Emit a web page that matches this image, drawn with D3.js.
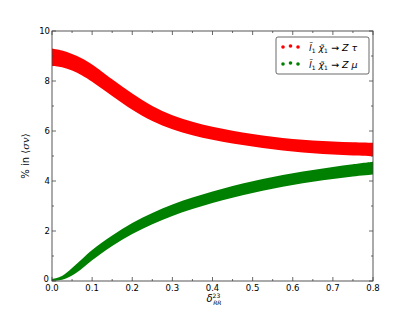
<!DOCTYPE html>
<html>
<head>
<meta charset="utf-8">
<script src="https://cdn.jsdelivr.net/npm/d3@7"></script>
<style>
  body { margin: 0; background: #fff; }
  text { font-family: "DejaVu Sans", sans-serif; }
</style>
</head>
<body>
<div id="chart"></div>
<script>
const delta = [0, 0.025, 0.05, 0.075, 0.1, 0.15, 0.2, 0.25, 0.3, 0.35, 0.4, 0.45, 0.5, 0.55, 0.6, 0.65, 0.7, 0.75, 0.8];
const tauLow  = [8.6, 8.55, 8.42, 8.22, 7.97, 7.4, 6.85, 6.4, 6.07, 5.83, 5.65, 5.5, 5.38, 5.27, 5.18, 5.11, 5.06, 5.02, 4.99];
const tauHigh = [9.3, 9.22, 9.08, 8.9, 8.66, 8.07, 7.5, 7.0, 6.63, 6.37, 6.17, 6.01, 5.88, 5.77, 5.68, 5.62, 5.58, 5.55, 5.53];
const muLow   = [0, 0.05, 0.22, 0.5, 0.83, 1.4, 1.88, 2.27, 2.6, 2.88, 3.12, 3.33, 3.52, 3.69, 3.84, 3.97, 4.08, 4.18, 4.26];
const muHigh  = [0.08, 0.2, 0.52, 0.88, 1.24, 1.82, 2.32, 2.72, 3.06, 3.34, 3.58, 3.8, 3.99, 4.16, 4.31, 4.44, 4.56, 4.67, 4.77];
const xTicks = [0, 0.1, 0.2, 0.3, 0.4, 0.5, 0.6, 0.7, 0.8];
const yTicks = [0, 2, 4, 6, 8, 10];

const width = 415, height = 312;
const pl = 52, pr = 373, pt = 31, pb = 281;

const svg = d3.select("#chart").append("svg")
  .attr("width", width)
  .attr("height", height);

const x = d3.scaleLinear().domain([0, 0.8]).range([pl, pr]);
const y = d3.scaleLinear().domain([0, 10]).range([pb, pt]);

const series = [
  {low: tauLow, high: tauHigh, color: "#ff0000"},
  {low: muLow, high: muHigh, color: "#008000"}
];

const area = d3.area()
  .x(d => x(d.x))
  .y0(d => y(d.lo))
  .y1(d => y(d.hi))
  .curve(d3.curveCatmullRom);

series.forEach(s => {
  const pts = delta.map((d, i) => ({x: d, lo: s.low[i], hi: s.high[i]}));
  svg.append("path")
    .datum(pts)
    .attr("d", area)
    .attr("fill", s.color);
});

// frame
svg.append("rect")
  .attr("x", pl).attr("y", pt)
  .attr("width", pr - pl).attr("height", pb - pt)
  .attr("fill", "none").attr("stroke", "#444").attr("stroke-width", 0.9);

// ticks, inward on all four sides
const xMinor = d3.range(0.05, 0.8, 0.1);
const yMinor = [1, 3, 5, 7, 9];
const tk = svg.append("g").attr("stroke", "#444").attr("stroke-width", 0.8);
xTicks.forEach(t => {
  tk.append("line").attr("x1", x(t)).attr("x2", x(t)).attr("y1", pb).attr("y2", pb - 4);
  tk.append("line").attr("x1", x(t)).attr("x2", x(t)).attr("y1", pt).attr("y2", pt + 4);
});
xMinor.forEach(t => {
  tk.append("line").attr("x1", x(t)).attr("x2", x(t)).attr("y1", pb).attr("y2", pb - 2);
  tk.append("line").attr("x1", x(t)).attr("x2", x(t)).attr("y1", pt).attr("y2", pt + 2);
});
yTicks.forEach(t => {
  tk.append("line").attr("y1", y(t)).attr("y2", y(t)).attr("x1", pl).attr("x2", pl + 4);
  tk.append("line").attr("y1", y(t)).attr("y2", y(t)).attr("x1", pr).attr("x2", pr - 4);
});
yMinor.forEach(t => {
  tk.append("line").attr("y1", y(t)).attr("y2", y(t)).attr("x1", pl).attr("x2", pl + 2);
  tk.append("line").attr("y1", y(t)).attr("y2", y(t)).attr("x1", pr).attr("x2", pr - 2);
});

svg.selectAll(".xl").data(xTicks).enter().append("text")
  .attr("x", d => x(d)).attr("y", pb + 10)
  .attr("text-anchor", "middle").attr("font-size", 8.5).attr("fill", "#000")
  .text(d => d.toFixed(1));

svg.selectAll(".yl").data(yTicks).enter().append("text")
  .attr("x", d => d === 0 ? pl - 3 : pl - 2).attr("y", d => y(d) + (d === 0 ? 1 : 3))
  .attr("text-anchor", "end").attr("font-size", 8.5).attr("fill", "#000")
  .text(d => d);

// axis labels
const xl = svg.append("text")
  .attr("x", 214).attr("y", 302)
  .attr("text-anchor", "middle").attr("font-size", 10)
  .attr("font-family", "DejaVu Serif").attr("font-style", "italic");
xl.append("tspan").text("δ");
xl.append("tspan").attr("dy", -4.5).attr("font-size", 6).attr("font-style", "normal").text("23");
xl.append("tspan").attr("dx", -7).attr("dy", 7.5).attr("font-size", 6).text("RR");

const yl = svg.append("text")
  .attr("transform", "translate(29," + (pb + pt) / 2 + ") rotate(-90)")
  .attr("text-anchor", "middle").attr("font-size", 10).attr("fill", "#000");
yl.append("tspan").text("% in ⟨");
yl.append("tspan").attr("font-family", "DejaVu Serif").attr("font-style", "italic").text("σv");
yl.append("tspan").text("⟩");

// legend
const leg = svg.append("g");
leg.append("rect")
  .attr("x", 276).attr("y", 37).attr("width", 93).attr("height", 37)
  .attr("rx", 2).attr("fill", "#fff").attr("stroke", "#444").attr("stroke-width", 0.8);

const legLabels = ["τ", "μ"];
series.forEach((s, i) => {
  const ly = 47 + i * 17;
  [283, 290.5, 298].forEach((cx, j) => {
    leg.append("circle").attr("cx", cx).attr("cy", ly + (j === 1 ? -1 : 0)).attr("r", 1.8).attr("fill", s.color);
  });
  const t = leg.append("text").attr("x", 309).attr("y", ly + 3.5)
    .attr("font-size", 9.5).attr("font-family", "DejaVu Serif").attr("fill", "#000");
  t.append("tspan").attr("font-style", "italic").text("l̃");
  t.append("tspan").attr("font-size", 6).attr("dy", 2).text("1");
  t.append("tspan").attr("font-style", "italic").attr("dx", 3).attr("dy", -2).text("χ̃");
  t.append("tspan").attr("font-size", 6).attr("dy", 2).text("1");
  t.append("tspan").attr("dy", -2).text(" → ");
  t.append("tspan").attr("font-style", "italic").text("Z " + legLabels[i]);
});
</script>
</body>
</html>
